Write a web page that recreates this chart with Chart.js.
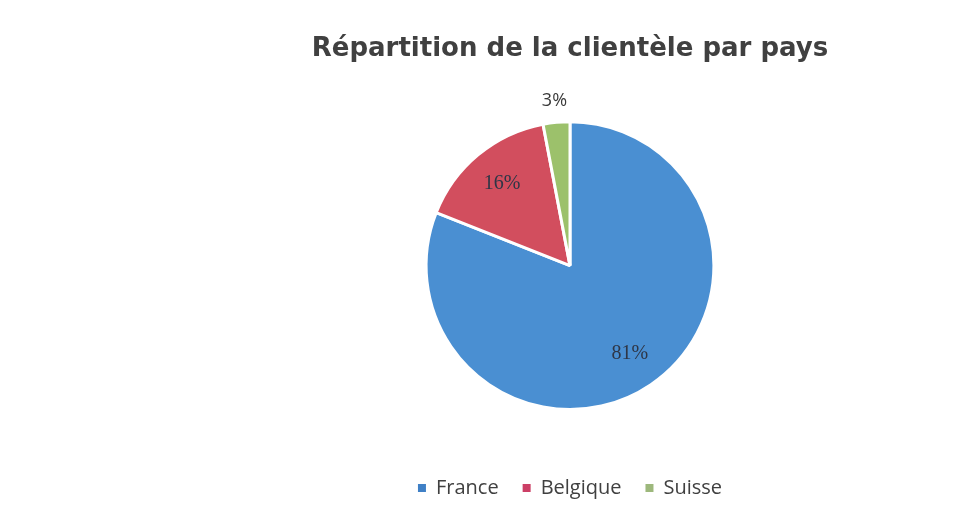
<!DOCTYPE html>
<html>
<head>
<meta charset="utf-8">
<script src="https://cdn.jsdelivr.net/npm/chart.js@4"></script>
<style>
  html, body { margin: 0; padding: 0; background: #ffffff; }
  #wrap { width: 976px; height: 517px; position: relative; }
</style>
</head>
<body>
<div id="wrap"><canvas id="c" width="976" height="517"></canvas></div>
<script>
const categories = ["France", "Belgique", "Suisse"];
const values = [81, 16, 3];
const labelTexts = ["81%", "16%", "3%"];
const colors = ["#4a8fd2", "#d24e5e", "#9cc16b"];
const legendColors = ["#3f80c6", "#cc3f66", "#9db87c"];
const titleText = "Répartition de la clientèle par pays";

const sliceLabels = {
  id: 'sliceLabels',
  afterDatasetsDraw(chart) {
    const ctx = chart.ctx;
    const meta = chart.getDatasetMeta(0);
    ctx.save();
    ctx.textAlign = 'center';
    ctx.textBaseline = 'middle';
    meta.data.forEach((arc, i) => {
      const p = arc.getProps(['x','y','startAngle','endAngle','outerRadius'], true);
      const mid = (p.startAngle + p.endAngle) / 2;
      const outside = values[i] < 5;
      const f = outside ? 1.15 : 0.74;
      const r = p.outerRadius * f;
      if (outside) {
        ctx.font = '18px "Open Sans", "Liberation Sans", sans-serif';
        ctx.fillStyle = '#3a3a3a';
      } else {
        ctx.font = '20px "Liberation Serif", "DejaVu Serif", serif';
        ctx.fillStyle = '#2e3647';
      }
      ctx.fillText(labelTexts[i], p.x + Math.cos(mid) * r, p.y + Math.sin(mid) * r);
    });
    ctx.restore();
  }
};

new Chart(document.getElementById('c'), {
  type: 'pie',
  data: {
    labels: categories,
    datasets: [{
      data: values,
      backgroundColor: colors,
      borderColor: '#ffffff',
      borderWidth: 3,
      radius: '77%'
    }]
  },
  options: {
    responsive: false,
    animation: false,
    layout: { padding: { left: 164, right: 0, top: 0, bottom: 9 } },
    plugins: {
      tooltip: { enabled: false },
      title: {
        display: true,
        text: titleText,
        color: '#404040',
        font: { family: '"DejaVu Sans", Verdana, sans-serif', size: 26, weight: 'bold' },
        padding: { top: 34, bottom: 12 }
      },
      legend: {
        position: 'bottom',
        labels: {
          usePointStyle: true,
          pointStyle: 'rect',
          boxWidth: 8,
          boxHeight: 8,
          padding: 24,
          color: '#404040',
          font: { family: '"Open Sans", "Liberation Sans", sans-serif', size: 20 },
          generateLabels(chart) {
            const items = Chart.overrides.pie.plugins.legend.labels.generateLabels(chart);
            return items.map((it, i) => Object.assign(it, {
              lineWidth: 0,
              strokeStyle: 'rgba(0,0,0,0)',
              fillStyle: legendColors[i]
            }));
          }
        }
      }
    }
  },
  plugins: [sliceLabels]
});
</script>
</body>
</html>
